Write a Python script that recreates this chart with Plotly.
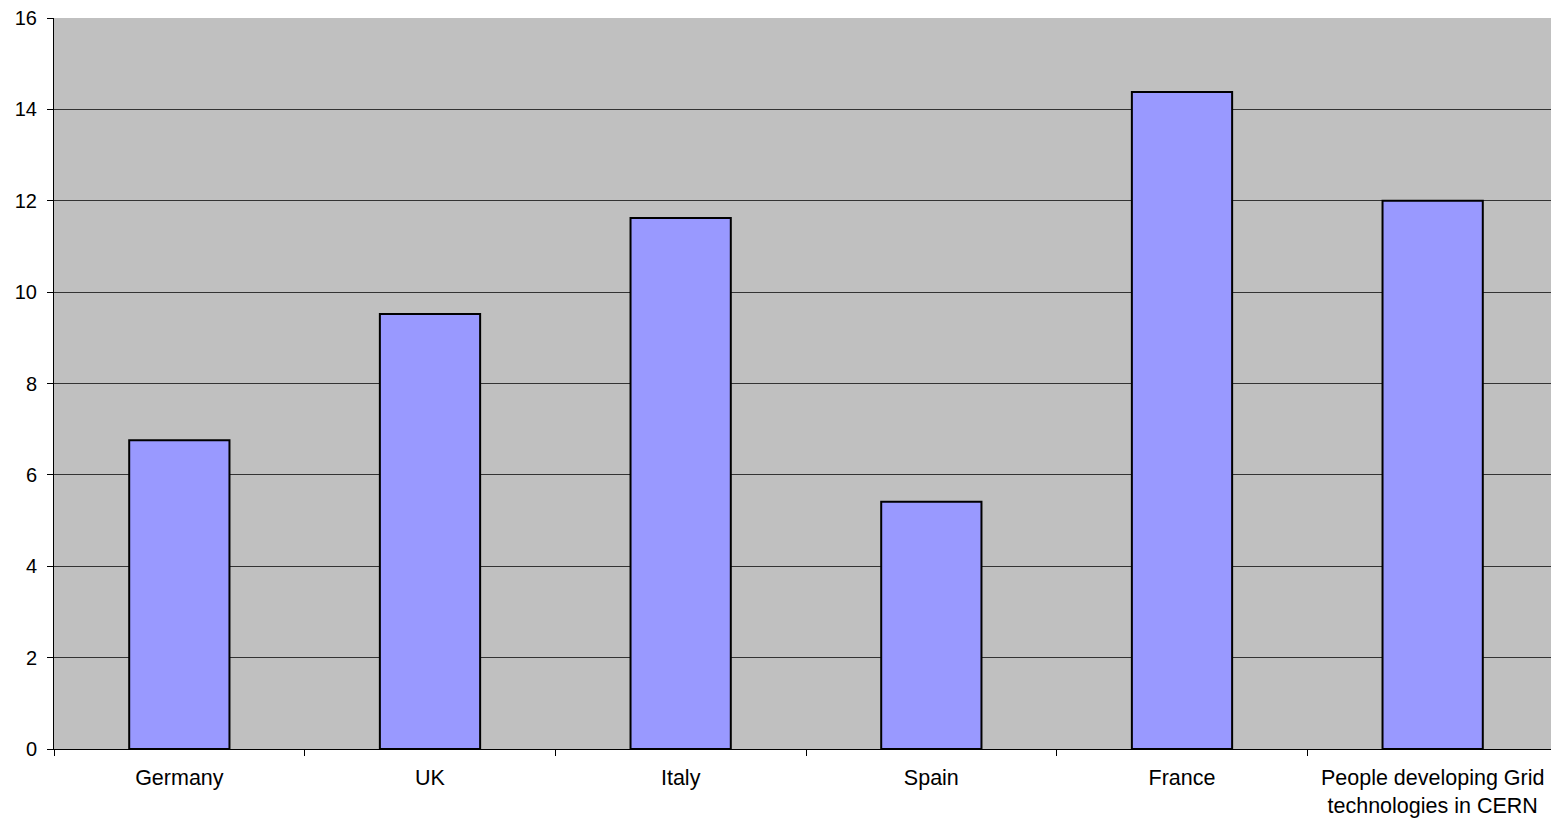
import plotly.graph_objects as go

categories = ["Germany", "UK", "Italy", "Spain", "France",
              "People developing Grid<br>technologies in CERN"]
values = [6.76, 9.52, 11.62, 5.41, 14.38, 12.0]
y_ticks = [0, 2, 4, 6, 8, 10, 12, 14, 16]

fig = go.Figure()
fig.add_trace(go.Bar(
    x=categories, y=values,
    marker=dict(color="#9999FF", line=dict(color="black", width=2)),
))

fig.update_layout(
    width=1559, height=820,
    margin=dict(l=46, r=9, t=10, b=79, autoexpand=False),
    paper_bgcolor="white",
    plot_bgcolor="#C0C0C0",
    bargap=0.6,
    showlegend=False,
    font=dict(family="Liberation Sans, Arial, sans-serif", size=22, color="black"),
)
fig.update_xaxes(
    showline=True, linecolor="black", linewidth=1,
    ticks="outside", tickson="boundaries", ticklen=6, tickcolor="black",
    showgrid=False, ticklabelstandoff=9, ticklabeloverflow="allow",
    tickfont=dict(size=21.5),
    automargin=False,
)
fig.update_yaxes(
    range=[0, 16], tickvals=y_ticks,
    showline=True, linecolor="black", linewidth=1,
    ticks="outside", ticklen=6, tickcolor="black",
    showgrid=True, gridcolor="#333333", gridwidth=1,
    zeroline=False, ticklabelstandoff=6, ticklabeloverflow="allow",
    tickfont=dict(size=20),
    automargin=False,
)

fig.write_html("out.html")
